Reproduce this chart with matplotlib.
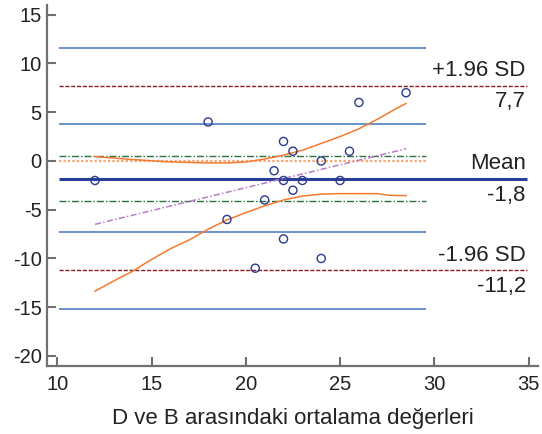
import matplotlib
matplotlib.use("Agg")
import matplotlib.pyplot as plt

plt.rcParams['font.family'] = ['Liberation Sans', 'DejaVu Sans']

# Data: averages (x) and differences (y)
avg_vals = [12, 18, 19, 20.5, 21, 21.5, 22, 22, 22, 22.5, 22.5, 23, 24, 24, 25, 25.5, 26, 28.5]
diff_vals = [-2, 4, -6, -11, -4, -1, 2, -2, -8, 1, -3, -2, 0, -10, -2, 1, 6, 7]

mean_diff = -1.8
upper_loa = 7.7
lower_loa = -11.2
mean_ci = [0.5, -4.1]
upper_loa_ci = [11.6, 3.8]
lower_loa_ci = [-7.3, -15.2]

# Regression line of differences (endpoints)
reg_x = [12, 28.5]
reg_y = [-6.5, 1.25]

# Upper and lower smooth curves
upper_curve_x = [12, 14, 16, 18, 19, 20, 21, 22, 23, 24, 25, 26, 27, 28, 28.5]
upper_curve_y = [0.45, 0.15, -0.1, -0.2, -0.2, -0.1, 0.2, 0.6, 1.1, 1.8, 2.5, 3.3, 4.3, 5.4, 5.9]
lower_curve_x = [12, 13, 14, 15, 16, 17, 18, 19, 20, 21, 22, 23, 24, 25, 26, 27, 27.5, 28, 28.5]
lower_curve_y = [-13.35, -12.3, -11.3, -10.1, -9.0, -8.1, -7.0, -6.05, -5.3, -4.6, -4.0, -3.6, -3.4,
                 -3.35, -3.35, -3.35, -3.5, -3.55, -3.55]

x_ticks = [10, 15, 20, 25, 30, 35]
y_ticks = [15, 10, 5, 0, -5, -10, -15, -20]

fig = plt.figure(figsize=(5.42, 4.34), dpi=100)
ax = fig.add_axes([0.0873, 0.1567, 0.9053, 0.8318])
ax.set_xlim(9.47, 35.5)
ax.set_ylim(-21.03, 16.0)

x0, x1, x2 = 10.1, 29.55, 34.93

blue_ci = '#6a90cc'
ax.hlines(upper_loa_ci + lower_loa_ci, x0, x1, colors=blue_ci, lw=1.4, zorder=2)
ax.hlines(mean_ci, x0, x1, colors='#2d7040', lw=1.0, linestyles=[(0, (5, 1.5, 1, 1.5))], zorder=2)
ax.hlines([0], x0, x1, colors='#f7a36a', lw=1.6, linestyles=[(0, (1, 1))], zorder=2)
ax.hlines([upper_loa, lower_loa], x0, x2, colors='#8b1c24', lw=1.0, linestyles=[(0, (3, 1.2))], zorder=2)
ax.hlines([mean_diff], x0, x2, colors='#2a3f9a', lw=2.2, zorder=3)

ax.plot(reg_x, reg_y, color='#b87cc8', lw=1.1, ls=(0, (4, 1.5, 1, 1.5)), zorder=3)
ax.plot(upper_curve_x, upper_curve_y, color='#f47a30', lw=1.1, zorder=3)
ax.plot(lower_curve_x, lower_curve_y, color='#f47a30', lw=1.1, zorder=3)

ax.scatter(avg_vals, diff_vals, s=34, facecolors='none', edgecolors='#2b3a8c', linewidths=1.0, zorder=4)

txt_kw = dict(textcoords='offset points', ha='right', fontsize=16, color='#222222', va='baseline')
ax.annotate('+1.96 SD', (x2, upper_loa), xytext=(-1, 7), **txt_kw)
ax.annotate('7,7', (x2, upper_loa), xytext=(-1, -15.5), **txt_kw)
ax.annotate('Mean', (x2, mean_diff), xytext=(-1, 6.6), **txt_kw)
ax.annotate('-1,8', (x2, mean_diff), xytext=(-1, -16.3), **txt_kw)
ax.annotate('-1.96 SD', (x2, lower_loa), xytext=(-1, 6.9), **txt_kw)
ax.annotate('-11,2', (x2, lower_loa), xytext=(-1, -15.8), **txt_kw)

ax.set_xticks(x_ticks)
ax.set_yticks(y_ticks)
ax.set_xticklabels([str(v) for v in x_ticks])
ax.set_yticklabels([str(v) for v in y_ticks])
ax.tick_params(direction='in', length=6.5, width=1.5, colors='#707070', labelcolor='#222222',
               labelsize=14.5)
ax.tick_params(axis='y', pad=4)
ax.tick_params(axis='x', pad=6.5)
for side in ['top', 'right']:
    ax.spines[side].set_visible(False)
for side in ['left', 'bottom']:
    ax.spines[side].set_color('#707070')
    ax.spines[side].set_linewidth(1.6)

ax.set_xlabel('D ve B arasındaki ortalama değerleri', fontsize=16, color='#222222', labelpad=10)

fig.savefig('out.png', dpi=100)
